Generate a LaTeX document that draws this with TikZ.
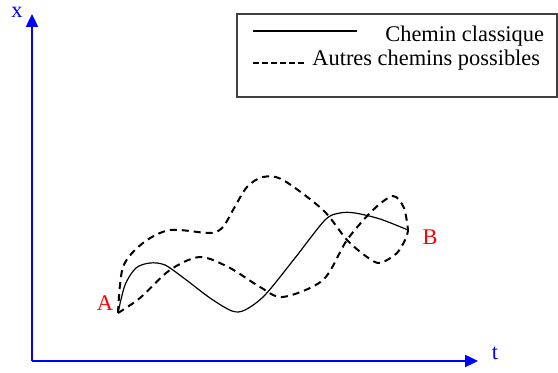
\documentclass[tikz,border=0pt]{standalone}
\usepackage{fontspec}
\setmainfont{Liberation Serif}
\usetikzlibrary{arrows.meta}
\tikzset{
  axis/.style={blue, line width=1.2pt, -{Triangle[length=6.5pt,width=6pt]}},
  classic/.style={line width=0.6pt},
  other/.style={line width=1pt, dash pattern=on 3.5pt off 2.5pt},
  legendtext/.style={anchor=base west, inner sep=0pt},
}
\begin{document}
\begin{tikzpicture}[x=0.5pt,y=-0.5pt,font=\fontsize{11.2}{13}\selectfont]
\useasboundingbox (0,0) rectangle (558,373);
% axes
\coordinate (o) at (32,361);
\coordinate (tend) at (478,361);
\coordinate (xend) at (32,14);
\draw[axis] (o) -- (tend);
\draw[axis] (o) -- (xend);
\node (t) [blue] at (495,353) {t};
\node (x) [blue, inner sep=0pt] at (17,12) {x};
% legend
\draw[line width=0.7pt, black!75] (237,14) rectangle (557,97);
\coordinate (c1) at (253,31);
\coordinate (c2) at (357,31);
\coordinate (d1) at (253,63);
\coordinate (d2) at (306,63);
\draw[classic, line width=0.8pt] (c1) -- (c2);
\draw[line width=1pt, dash pattern=on 3pt off 1.5pt] (d1) -- (d2);
\node (classic) [legendtext] at (385,42) {Chemin classique};
\node (others) [legendtext] at (312,66) {Autres chemins possibles};
% end points
\coordinate (A) at (118,313);
\coordinate (B) at (408,230);
\node (a) [red] at (105,303) {A};
\node (b) [red] at (430,237) {B};
% paths
\draw[classic] plot[smooth] coordinates {(A) (125,285) (136,268) (150,263) (165,265)
  (185,279) (210,298) (232,311) (245,310) (265,295) (295,258) (325,220) (340,213)
  (355,213) (380,219) (B)};
\draw[other] plot[smooth] coordinates {(A) (123,267) (143,243) (170,230) (210,233)
  (223,227) (233,210) (247,187) (263,177) (283,180) (323,210) (347,240) (367,257)
  (380,263) (397,253) (406,238) (B)};
\draw[other] plot[smooth] coordinates {(A) (140,298) (170,270) (200,257) (230,268)
  (260,287) (283,297) (323,280) (347,240) (373,210) (393,196) (404,208) (B)};
\end{tikzpicture}
\end{document}
